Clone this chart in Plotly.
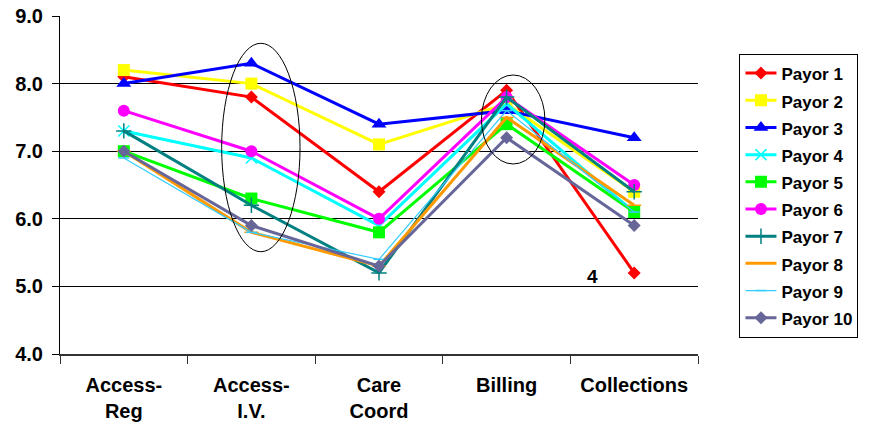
import plotly.graph_objects as go

categories = ["Access-<br>Reg", "Access-<br>I.V.", "Care<br>Coord", "Billing", "Collections"]

payor_1 = [8.1, 7.8, 6.4, 7.9, 5.2]
payor_2 = [8.2, 8.0, 7.1, 7.7, 6.4]
payor_3 = [8.0, 8.3, 7.4, 7.6, 7.2]
payor_4 = [7.3, 6.9, 5.9, 7.7, 6.1]
payor_5 = [7.0, 6.3, 5.8, 7.4, 6.1]
payor_6 = [7.6, 7.0, 6.0, 7.8, 6.5]
payor_7 = [7.3, 6.2, 5.2, 7.8, 6.4]
payor_8 = [7.0, 5.8, 5.3, 7.5, 6.2]
payor_9 = [6.9, 5.8, 5.4, 7.6, 6.1]
payor_10 = [7.0, 5.9, 5.3, 7.2, 5.9]

series_names = ["Payor 1", "Payor 2", "Payor 3", "Payor 4", "Payor 5",
                "Payor 6", "Payor 7", "Payor 8", "Payor 9", "Payor 10"]
series_values = [payor_1, payor_2, payor_3, payor_4, payor_5,
                 payor_6, payor_7, payor_8, payor_9, payor_10]

styles = [
    dict(color="#FF0000", symbol="diamond", size=10, width=3),
    dict(color="#FFFF00", symbol="square", size=12, width=3),
    dict(color="#0000FF", symbol="triangle-up", size=13, width=3),
    dict(color="#00FFFF", symbol="x-thin", size=11, width=3),
    dict(color="#00FF00", symbol="square", size=12, width=3),
    dict(color="#FF00FF", symbol="circle", size=12, width=3),
    dict(color="#008080", symbol="cross-thin", size=11, width=3),
    dict(color="#FF9900", symbol="line-ew", size=10, width=3),
    dict(color="#33CCFF", symbol="line-ew", size=8, width=1.2),
    dict(color="#666699", symbol="diamond", size=10, width=3),
]

FONT = "Liberation Sans, Arial, sans-serif"

fig = go.Figure()
for name, vals, st in zip(series_names, series_values, styles):
    thin = st["symbol"] in ("x-thin", "cross-thin", "line-ew")
    fig.add_trace(go.Scatter(
        x=categories, y=vals,
        name='<span style="font-size:17px"><b>' + name + "</b></span>",
        mode="lines+markers",
        line=dict(color=st["color"], width=st["width"]),
        marker=dict(symbol=st["symbol"], size=st["size"], color=st["color"],
                    line=dict(color=st["color"], width=1.5 if thin else 0)),
    ))

fig.add_shape(type="circle", xref="x", yref="y", x0=0.767, x1=1.381, y0=5.513, y1=8.596,
              line=dict(color="black", width=1))
fig.add_shape(type="circle", xref="x", yref="y", x0=2.803, x1=3.300, y0=6.811, y1=8.127,
              line=dict(color="black", width=1))
fig.add_annotation(x=3.673, y=5.14, xref="x", yref="y", text="<b>4</b>", showarrow=False,
                   font=dict(family=FONT, size=19, color="black"))

fig.update_layout(
    width=870, height=425, autosize=False,
    margin=dict(l=60, r=166, t=16, b=71),
    paper_bgcolor="white", plot_bgcolor="white",
    font=dict(family=FONT, color="black"),
    showlegend=True,
    legend=dict(x=1.065, y=0.889, xanchor="left", yanchor="top",
                bordercolor="black", borderwidth=1, bgcolor="white",
                font=dict(family=FONT, size=18.6, color="black"),
                tracegroupgap=0, itemwidth=31),
)
fig.update_xaxes(
    type="category", range=[-0.5, 4.5], tickson="boundaries",
    ticks="outside", ticklen=8, tickcolor="#333333",
    showline=True, linecolor="#333333", linewidth=2,
    showgrid=False, zeroline=False, automargin=False,
    tickfont=dict(family=FONT, size=20, color="black"),
    ticklabelstandoff=12, ticklabeloverflow="allow",
    tickprefix="<b>", ticksuffix="</b>",
)
fig.update_yaxes(
    range=[4, 9], dtick=1, tick0=4, tickformat=".1f",
    ticks="outside", ticklen=7, tickcolor="black",
    showline=True, linecolor="black", linewidth=1,
    showgrid=True, gridcolor="black", gridwidth=1, zeroline=False, automargin=False,
    tickfont=dict(family=FONT, size=20, color="black"),
    ticklabelstandoff=5, ticklabeloverflow="allow",
    tickprefix="<b>", ticksuffix="</b>",
)

fig.write_html("out.html",
               config={"displayModeBar": False, "responsive": False},
               post_script="document.body.style.margin='0';document.body.style.overflow='hidden';")
